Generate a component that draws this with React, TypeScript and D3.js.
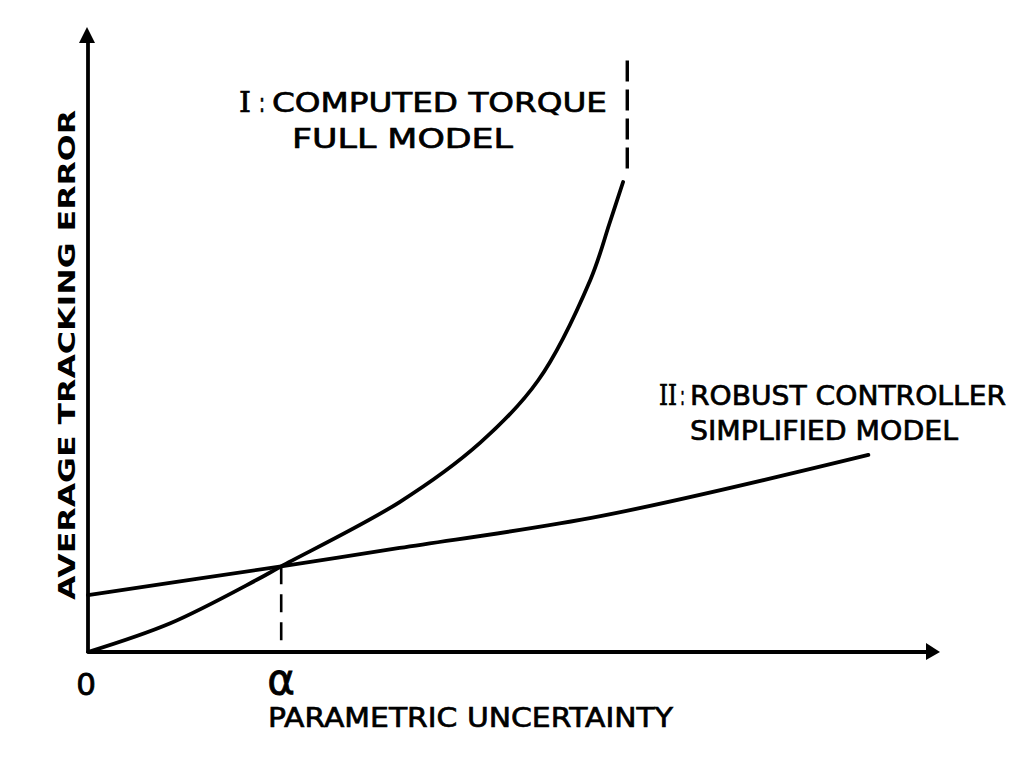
import React, { useEffect, useRef } from 'react';
import * as d3 from 'd3';

// Curve I: computed torque, full model (data units, no ticks on the original)
const torqueX = [0, 0.98, 2.01, 2.3, 3.71, 4.67, 5.36, 5.98, 6.21, 6.37];
const torqueY = [0, 0.47, 1.18, 1.4, 2.45, 3.42, 4.44, 6.08, 7.01, 7.68];

// Curve II: robust controller, simplified model
const robustX = [0, 2.3, 3.71, 6.1, 9.29];
const robustY = [0.93, 1.4, 1.7, 2.22, 3.22];

// vertical asymptote of curve I
const asymptoteX = 6.42;
const asymptoteY = [7.9, 9.72];

const alphaX = 2.3;
const alphaY = 1.4;

const tickLabels = ['0', 'α'];
const tickValues = [0, alphaX];

const W = 1022;
const H = 761;

const App: React.FC = () => {
  const svgRef = useRef<SVGSVGElement>(null);

  useEffect(() => {
    if (!svgRef.current) return;
    const svg = d3.select(svgRef.current);
    svg.selectAll('*').remove();

    const x = d3.scaleLinear().domain([0, 10]).range([88, 928]);
    const y = d3.scaleLinear().domain([0, 10]).range([652, 40]);

    const ink = '#000';
    const sans = '"DejaVu Sans", "Liberation Sans", sans-serif';
    const serif = '"DejaVu Serif", "Liberation Serif", serif';

    // axes
    svg.append('line')
      .attr('x1', x(0)).attr('y1', y(0))
      .attr('x2', 928).attr('y2', y(0))
      .attr('stroke', ink).attr('stroke-width', 3.8);
    svg.append('path')
      .attr('d', `M926,643 L940,652 L926,660 Z`)
      .attr('fill', ink);

    svg.append('line')
      .attr('x1', x(0)).attr('y1', y(0) + 1)
      .attr('x2', x(0)).attr('y2', 40)
      .attr('stroke', ink).attr('stroke-width', 3.8);
    svg.append('path')
      .attr('d', `M79,43 L87,27 L95,43 Z`)
      .attr('fill', ink);

    const line = d3.line<[number, number]>()
      .x(d => x(d[0]))
      .y(d => y(d[1]))
      .curve(d3.curveCatmullRom.alpha(0.5));

    svg.append('path')
      .datum(d3.zip(torqueX, torqueY) as [number, number][])
      .attr('d', line)
      .attr('fill', 'none')
      .attr('stroke', ink)
      .attr('stroke-width', 3.8)
      .attr('stroke-linecap', 'round');

    svg.append('path')
      .datum(d3.zip(robustX, robustY) as [number, number][])
      .attr('d', line)
      .attr('fill', 'none')
      .attr('stroke', ink)
      .attr('stroke-width', 3.8)
      .attr('stroke-linecap', 'round');

    // dashed lines
    svg.append('line')
      .attr('x1', x(asymptoteX)).attr('y1', y(asymptoteY[0]))
      .attr('x2', x(asymptoteX)).attr('y2', y(asymptoteY[1]))
      .attr('stroke', ink).attr('stroke-width', 3.4)
      .attr('stroke-dasharray', '21 8');

    svg.append('line')
      .attr('x1', x(alphaX)).attr('y1', y(alphaY))
      .attr('x2', x(alphaX)).attr('y2', y(0))
      .attr('stroke', ink).attr('stroke-width', 2.6)
      .attr('stroke-dasharray', '18 10');

    // tick labels under the x axis
    svg.selectAll('text.tick')
      .data(tickValues)
      .enter()
      .append('text')
      .attr('class', 'tick')
      .attr('x', (d, i) => x(d) + (i === 0 ? -2 : 0))
      .attr('y', (d, i) => (i === 0 ? 695 : 694))
      .attr('text-anchor', 'middle')
      .attr('font-family', sans)
      .attr('font-size', (d, i) => (i === 0 ? 31 : 42))
      .attr('fill', ink)
      .attr('stroke', ink)
      .attr('stroke-width', 0.8)
      .text((d, i) => tickLabels[i]);

    // axis titles
    svg.append('text')
      .attr('x', 268).attr('y', 727)
      .attr('font-family', sans).attr('font-size', 27)
      .attr('textLength', 405).attr('lengthAdjust', 'spacingAndGlyphs')
      .attr('fill', ink).attr('stroke', ink).attr('stroke-width', 0.7)
      .text('PARAMETRIC UNCERTAINTY');

    svg.append('text')
      .attr('transform', 'translate(75,600) rotate(-90)')
      .attr('font-family', sans).attr('font-size', 23).attr('font-weight', 'bold')
      .attr('textLength', 490).attr('lengthAdjust', 'spacingAndGlyphs')
      .attr('fill', ink)
      .text('AVERAGE TRACKING ERROR');

    // curve annotations
    const note = (tx: number, ty: number, s: string, len: number, fam = sans) =>
      svg.append('text')
        .attr('x', tx).attr('y', ty)
        .attr('font-family', fam).attr('font-size', 27)
        .attr('textLength', len).attr('lengthAdjust', 'spacingAndGlyphs')
        .attr('fill', ink).attr('stroke', ink).attr('stroke-width', 0.7)
        .text(s);

    note(239, 112, 'I', 12, serif);
    note(259, 112, ':', 6);
    note(272, 112, 'COMPUTED TORQUE', 335);
    note(292, 148, 'FULL MODEL', 221);

    note(659, 405, 'II', 18, serif);
    note(680, 405, ':', 5);
    note(690, 405, 'ROBUST CONTROLLER', 316);
    note(690, 440, 'SIMPLIFIED MODEL', 268);
  }, []);

  return (
    <svg
      ref={svgRef}
      width={W}
      height={H}
      viewBox={`0 0 ${W} ${H}`}
      style={{ position: 'absolute', left: 0, top: 0, background: '#fff' }}
    />
  );
};

export default App;
